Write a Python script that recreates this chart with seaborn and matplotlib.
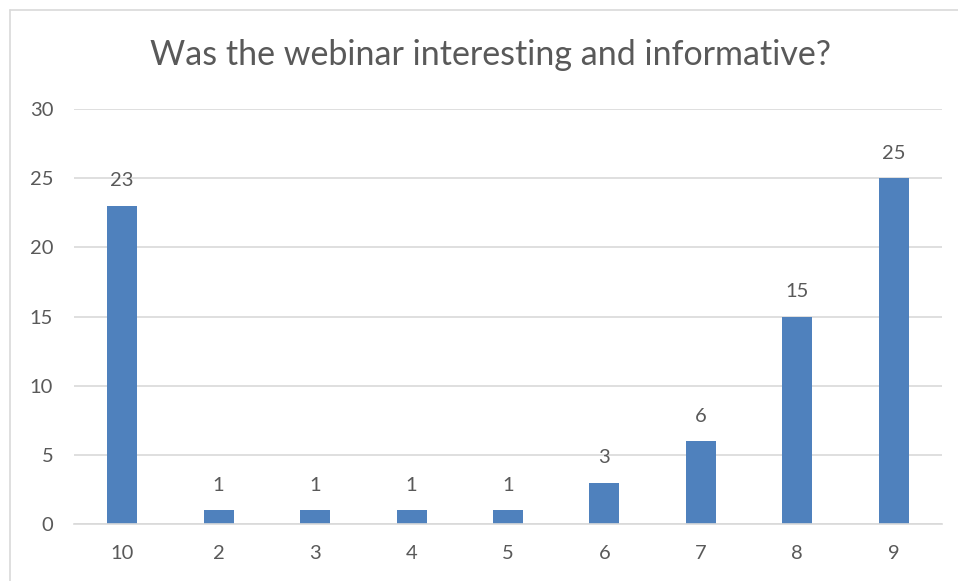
import matplotlib
matplotlib.use("Agg")
import matplotlib.pyplot as plt
from matplotlib.lines import Line2D
import seaborn as sns
import pandas as pd

categories = ["10", "2", "3", "4", "5", "6", "7", "8", "9"]
counts = [23, 1, 1, 1, 1, 3, 6, 15, 25]
title = "Was the webinar interesting and informative?"
y_ticks = [0, 5, 10, 15, 20, 25, 30]

sns.set_theme(style="white")
plt.rcParams['font.family'] = ['Lato', 'DejaVu Sans']

TEXT = "#595959"
GRID = "#D9D9D9"
BAR = "#4F81BD"

df = pd.DataFrame({"cat": categories, "n": counts})

fig = plt.figure(figsize=(9.58, 5.81), dpi=100)
ax = fig.add_axes([74/958, 1-524/581, (942-74)/958, (524-109)/581])

sns.barplot(data=df, x="cat", y="n", order=categories, color=BAR, width=0.31,
            saturation=1, ax=ax, edgecolor="none")

ax.set_ylim(0, 30)
ax.set_xlim(-0.5, len(categories) - 0.5)
ax.set_yticks(y_ticks)
ax.yaxis.grid(True, color=GRID, linewidth=1.2)
ax.set_axisbelow(True)
for s in ["top", "right", "left"]:
    ax.spines[s].set_visible(False)
ax.spines["bottom"].set_color(GRID)
ax.spines["bottom"].set_linewidth(1.2)
ax.tick_params(axis="both", length=0, colors=TEXT, labelsize=14.5)
ax.tick_params(axis="y", pad=15)
ax.tick_params(axis="x", pad=15)
ax.set_xlabel("")
ax.set_ylabel("")

for i, v in enumerate(counts):
    ax.annotate(str(v), (i, v), xytext=(0, 18), textcoords="offset points",
                ha="center", va="center", fontsize=14.5, color=TEXT)

fig.text(490/958, 1-55/581, title, ha="center", va="center", fontsize=24.5, color=TEXT)

fig.add_artist(Line2D([10/958, 1], [1-10/581, 1-10/581], transform=fig.transFigure,
                      color=GRID, linewidth=1.2))
fig.add_artist(Line2D([10/958, 10/958], [0, 1-10/581], transform=fig.transFigure,
                      color=GRID, linewidth=1.2))

fig.savefig("out.png", dpi=100)
